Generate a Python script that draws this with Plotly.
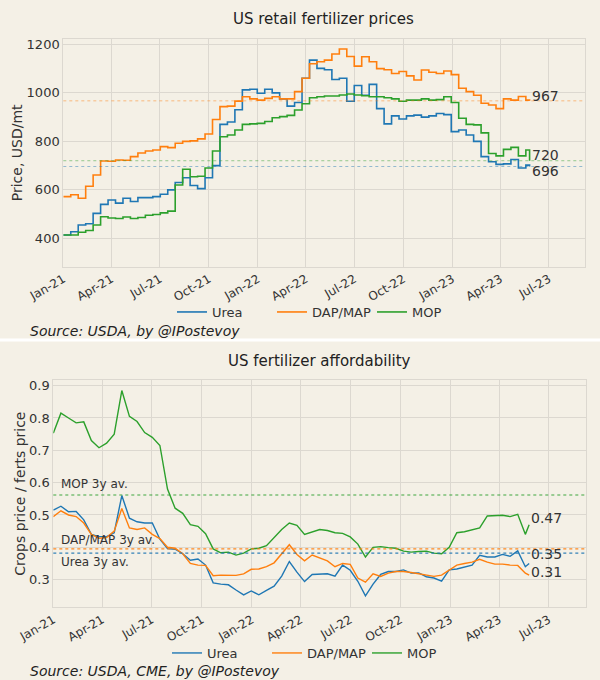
import pandas as pd
import plotly.graph_objects as go

# ============================
# 1. Dados
# ============================
datas = list(pd.date_range('2021-01-01', periods=63, freq='14D')) + [pd.Timestamp('2023-05-26')]

# Preços, USD/mt
preco_urea = [414, 427, 455, 460, 503, 540, 558, 545, 565, 552, 568, 568, 572, 582, 600, 630, 650, 618, 605, 650, 700, 870, 880, 930, 1012, 1015,
              998, 1015, 1000, 975, 945, 960, 1060, 1135, 1101, 1095, 1055, 1060, 965, 1030, 990, 1035, 935, 872, 905, 892, 905, 908, 900, 905, 915,
              910, 840, 847, 826, 800, 737, 716, 705, 707, 725, 690, 702, 696]
preco_dap = [572, 580, 565, 615, 661, 719, 718, 723, 722, 737, 752, 760, 764, 778, 774, 792, 800, 802, 810, 830, 890, 943, 945, 966, 984, 975,
             970, 977, 984, 975, 975, 1005, 1060, 1120, 1128, 1135, 1160, 1181, 1150, 1110, 1149, 1128, 1100, 1095, 1080, 1088, 1070, 1053, 1094, 1085, 1080,
             1090, 1075, 1019, 1005, 990, 957, 950, 935, 975, 970, 985, 970, 967]
preco_mop = [414, 414, 425, 432, 455, 489, 484, 482, 488, 482, 486, 495, 498, 505, 512, 620, 685, 654, 656, 690, 760, 819, 826, 847, 870, 872,
             874, 882, 897, 902, 907, 929, 955, 980, 984, 987, 987, 991, 995, 991, 988, 984, 984, 980, 975, 965, 970, 970, 975, 970, 972,
             984, 960, 895, 870, 868, 835, 750, 740, 767, 775, 740, 764, 720]

# Acessibilidade: preço das culturas / preço dos fertilizantes
acess_urea = [0.515, 0.527, 0.510, 0.511, 0.485, 0.440, 0.433, 0.433, 0.445, 0.560, 0.490, 0.479, 0.475, 0.475, 0.425, 0.396, 0.394, 0.380, 0.360, 0.364, 0.345, 0.290, 0.286, 0.284, 0.268, 0.253,
              0.265, 0.253, 0.267, 0.280, 0.311, 0.356, 0.323, 0.294, 0.316, 0.316, 0.318, 0.311, 0.345, 0.329, 0.295, 0.250, 0.286, 0.316, 0.325, 0.325, 0.330, 0.320, 0.321, 0.309, 0.305,
              0.295, 0.330, 0.333, 0.338, 0.345, 0.375, 0.370, 0.370, 0.378, 0.372, 0.389, 0.340, 0.350]
acess_dap = [0.495, 0.513, 0.500, 0.495, 0.475, 0.440, 0.428, 0.430, 0.450, 0.520, 0.460, 0.455, 0.460, 0.440, 0.427, 0.400, 0.397, 0.380, 0.350, 0.345, 0.344, 0.312, 0.314, 0.314, 0.313, 0.318,
             0.332, 0.333, 0.340, 0.352, 0.380, 0.408, 0.378, 0.358, 0.376, 0.367, 0.358, 0.340, 0.350, 0.347, 0.305, 0.292, 0.318, 0.310, 0.320, 0.325, 0.325, 0.322, 0.318, 0.316, 0.310,
             0.314, 0.330, 0.345, 0.350, 0.354, 0.363, 0.354, 0.348, 0.348, 0.345, 0.344, 0.320, 0.314]
acess_mop = [0.753, 0.815, 0.800, 0.785, 0.788, 0.730, 0.708, 0.722, 0.750, 0.885, 0.805, 0.789, 0.755, 0.740, 0.715, 0.580, 0.521, 0.505, 0.470, 0.465, 0.442, 0.395, 0.383, 0.385, 0.376, 0.382,
             0.395, 0.397, 0.405, 0.430, 0.455, 0.475, 0.468, 0.440, 0.448, 0.455, 0.452, 0.445, 0.443, 0.432, 0.410, 0.370, 0.400, 0.402, 0.399, 0.397, 0.388, 0.385, 0.387, 0.388, 0.382,
             0.380, 0.400, 0.445, 0.448, 0.455, 0.460, 0.497, 0.497, 0.499, 0.495, 0.502, 0.440, 0.470]

nomes = ['Urea', 'DAP/MAP', 'MOP']
cores = ['#1f77b4', '#ff7f0e', '#2ca02c']
media_3a = [0.382, 0.395, 0.562]
rotulos_media = ['Urea 3y av.', 'DAP/MAP 3y av.', 'MOP 3y av.']

# ============================
# 2. Figura
# ============================
fundo = '#f4f0e6'
grade = '#dcd8d0'
texto = '#333333'
fonte = 'DejaVu Sans'

fig = go.Figure()

precos = [preco_urea, preco_dap, preco_mop]
acess = [acess_urea, acess_dap, acess_mop]

for nome, cor, serie in zip(nomes, cores, precos):
    fig.add_trace(go.Scatter(x=datas, y=serie, name=nome, mode='lines', line=dict(color=cor, width=1.6, shape='hv'),
                             xaxis='x', yaxis='y', legend='legend'))
for nome, cor, serie in zip(nomes, cores, acess):
    fig.add_trace(go.Scatter(x=datas, y=serie, name=nome, mode='lines', line=dict(color=cor, width=1.4),
                             xaxis='x2', yaxis='y2', legend='legend2'))

# linhas horizontais no último valor (gráfico de preços)
for cor, serie in zip(cores, precos):
    fig.add_shape(type='line', xref='x domain', yref='y', x0=0, x1=1, y0=serie[-1], y1=serie[-1],
                  line=dict(color=cor, width=0.8, dash='dot'), opacity=0.6)

# médias de 3 anos (gráfico de acessibilidade)
for cor, v in zip(cores, media_3a):
    fig.add_shape(type='line', xref='x2 domain', yref='y2', x0=0, x1=1, y0=v, y1=v,
                  line=dict(color=cor, width=1.1, dash='dot'), opacity=0.9)

# rótulos do último valor (ordem: Urea, DAP/MAP, MOP)
for serie, dy in zip(precos, [-4, 5, 6]):
    fig.add_annotation(x=datas[-1], y=serie[-1], xref='x', yref='y', text=f'{serie[-1]:.0f}',
                       showarrow=False, xanchor='left', yanchor='middle', xshift=1, yshift=dy, borderpad=0,
                       font=dict(size=14, color=texto))
for serie, dy in zip(acess, [9, 3, 7]):
    fig.add_annotation(x=datas[-1], y=serie[-1], xref='x2', yref='y2', text=f'{serie[-1]:.2f}',
                       showarrow=False, xanchor='left', yanchor='middle', xshift=1, yshift=dy, borderpad=0,
                       font=dict(size=14, color=texto))

for rot, v, dy in zip(rotulos_media, media_3a, [-18, 0, 2]):
    fig.add_annotation(x=0.098, y=v, xref='paper', yref='y2', text=rot, showarrow=False,
                       xanchor='left', yanchor='bottom', yshift=dy, font=dict(size=12, color=texto))

# títulos e fontes
fig.add_annotation(x=323 / 600, y=1 - 19 / 680, xref='paper', yref='paper', text='US retail fertilizer prices',
                   showarrow=False, xanchor='center', yanchor='middle', font=dict(size=15, color='#222222'))
fig.add_annotation(x=319 / 600, y=1 - 361 / 680, xref='paper', yref='paper', text='US fertilizer affordability',
                   showarrow=False, xanchor='center', yanchor='middle', font=dict(size=15, color='#222222'))
fig.add_annotation(x=28 / 600, y=1 - 331 / 680, xref='paper', yref='paper', text='<i>Source: USDA, by @IPostevoy</i>',
                   showarrow=False, xanchor='left', yanchor='middle', font=dict(size=14, color='#222222'))
fig.add_annotation(x=28 / 600, y=1 - 671 / 680, xref='paper', yref='paper', text='<i>Source: USDA, CME, by @IPostevoy</i>',
                   showarrow=False, xanchor='left', yanchor='middle', font=dict(size=14, color='#222222'))

# faixa branca entre os painéis
fig.add_shape(type='rect', xref='paper', yref='paper', x0=0, x1=1, y0=1 - 341.5 / 680, y1=1 - 338.5 / 680,
              fillcolor='white', line=dict(width=0), layer='above')

eixo_x = dict(type='date', range=['2021-01-01', '2023-09-07'], dtick='M3', tick0='2021-01-01', tickformat='%b-%y',
              tickangle=-30, showgrid=True, gridcolor=grade, gridwidth=1, showline=True, linecolor=grade,
              mirror=True, zeroline=False, ticks='', automargin=False, tickfont=dict(size=12, color=texto))
eixo_y = dict(showgrid=True, gridcolor=grade, gridwidth=1, showline=True, linecolor=grade, mirror=True,
              zeroline=False, ticks='', automargin=False, tickfont=dict(size=13, color=texto))

fig.update_layout(
    width=600, height=680,
    paper_bgcolor=fundo, plot_bgcolor=fundo,
    font=dict(family=fonte, color=texto),
    margin=dict(l=0, r=0, t=0, b=0),
    xaxis=dict(eixo_x, domain=[63.3 / 600, 585 / 600], anchor='y'),
    yaxis=dict(eixo_y, domain=[1 - 266.7 / 680, 1 - 39 / 680], anchor='x', range=[283, 1222],
               tickvals=[400, 600, 800, 1000, 1200], title=dict(text='Price, USD/mt', font=dict(size=14), standoff=0)),
    xaxis2=dict(eixo_x, domain=[53.3 / 600, 585.7 / 600], anchor='y2'),
    yaxis2=dict(eixo_y, domain=[1 - 607.3 / 680, 1 - 380 / 680], anchor='x2', range=[0.2144, 0.9175],
                dtick=0.1, tick0=0.3, tickformat='.1f',
                title=dict(text='Crops price / ferts price', font=dict(size=14), standoff=0)),
    legend=dict(orientation='h', x=172 / 600, xanchor='left', y=1 - 312 / 680, yanchor='middle',
                bgcolor='rgba(0,0,0,0)', font=dict(size=13, color=texto), itemwidth=30,
                entrywidth=55, entrywidthmode='pixels'),
    legend2=dict(orientation='h', x=167 / 600, xanchor='left', y=1 - 653 / 680, yanchor='middle',
                 bgcolor='rgba(0,0,0,0)', font=dict(size=13, color=texto), itemwidth=30,
                 entrywidth=55, entrywidthmode='pixels'),
)

# sem margem do body, para o gráfico ocupar a janela toda
fig.write_html('out.html', config={'displayModeBar': False},
               post_script="document.body.style.margin='0';document.body.style.background='%s';" % fundo)
